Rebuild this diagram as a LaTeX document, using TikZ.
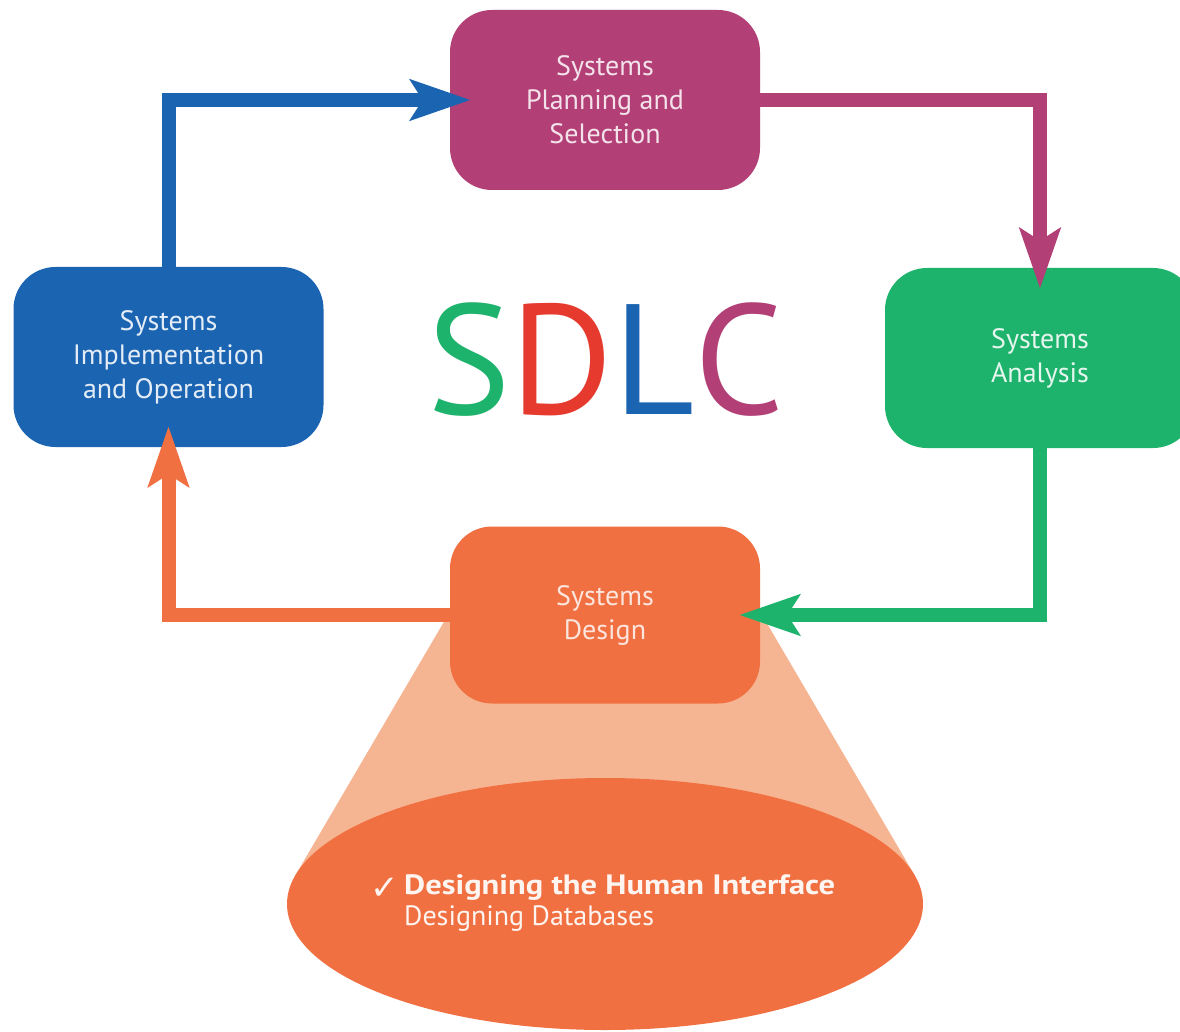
\documentclass[tikz,border=0pt]{standalone}
\usepackage{fontspec}
\setmainfont{PT Sans}
\newfontfamily\symfont{DejaVu Sans}
\usetikzlibrary{arrows.meta,calc,shapes.geometric}
\definecolor{plancol}{HTML}{B23F76}
\definecolor{implcol}{HTML}{1B64B2}
\definecolor{anacol}{HTML}{1EB36C}
\definecolor{descol}{HTML}{F07042}
\definecolor{lightcol}{HTML}{F6B592}
\definecolor{redcol}{HTML}{E63A2E}
\tikzset{
  phase/.style={rounded corners=42pt, minimum width=310pt, minimum height=180pt,
    align=center, font=\fontsize{28}{34}\selectfont, inner sep=0pt},
  flow/.style={line width=14pt, -{Stealth[length=60pt,width=40pt,inset=12pt]}, shorten >=-21pt},
}
\begin{document}
\begin{tikzpicture}[x=1pt,y=-1pt]
\useasboundingbox (0,0) rectangle (1180,1032);
\fill[white] (0,0) rectangle (1180,1032);
% zoom cone and ellipse
\coordinate (ec) at (605,904);
\coordinate (tl) at (445,620);
\coordinate (tr) at (765,620);
\fill[lightcol] (tl) -- ($(ec)+(167:318 and -126)$) -- ($(ec)+(13:318 and -126)$) -- (tr) -- cycle;
\node[ellipse, fill=descol, minimum width=636pt, minimum height=252pt, inner sep=0pt] (detail) at (ec) {};
% boxes
\node[phase, fill=plancol, text=white!85!plancol] (plan) at (605,100) {Systems\\Planning and\\Selection};
\node[phase, fill=implcol, text=white!88!implcol] (impl) at (168.5,357) {Systems\\Implementation\\and Operation};
\node[phase, fill=anacol, text=white!88!anacol] (ana) at (1040,358) {Systems\\Analysis};
\node[phase, fill=descol, text=white!82!descol, minimum height=177pt] (des) at (605,615) {Systems\\Design};
% title
\node[font=\fontsize{157}{160}\selectfont, inner sep=0pt] (title) at (606,360)
  {\textcolor{anacol}{S}\textcolor{redcol}{D}\textcolor{implcol}{L}\textcolor{plancol}{C}};
% detail text
\node[anchor=west, align=left, inner sep=0pt, text=white!92!descol, font=\fontsize{28}{31}\selectfont] (items) at (404,903)
  {\resizebox{431pt}{\height}{\textbf{Designing the Human Interface}}\\Designing Databases};
\node[anchor=east, inner sep=0pt, text=white!92!descol, font=\symfont\fontsize{34}{36}\selectfont] (check) at ([xshift=-5pt,yshift=14pt]items.west) {✓};
% flows
\draw[flow, implcol] (impl.north) |- (plan.west);
\draw[flow, plancol] (plan.east) -| (ana.north);
\draw[flow, anacol] (ana.south) |- (des.east);
\draw[flow, descol] (des.west) -| (impl.south);
\end{tikzpicture}
\end{document}
